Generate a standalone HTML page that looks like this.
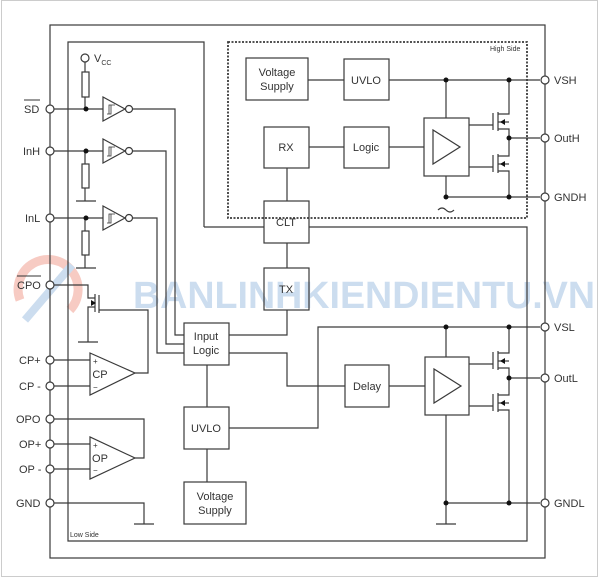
<!DOCTYPE html>
<html><head><style>
html,body{margin:0;padding:0;background:#fff;}
svg{display:block;}
text{font-family:"Liberation Sans",sans-serif;fill:#333;}
</style></head><body>
<svg width="600" height="578" viewBox="0 0 600 578" xmlns="http://www.w3.org/2000/svg">
<rect x="1.5" y="0.5" width="596" height="576" fill="none" stroke="#ccc" stroke-width="1"/>
<!-- watermark -->
<g opacity="0.45">
<path d="M20 300 A30 30 0 1 1 70 310" fill="none" stroke="#ef8d7c" stroke-width="9"/>
<path d="M25 320 L72 265" stroke="#8fb5dc" stroke-width="8"/>
<text x="133" y="308" font-size="38" font-weight="bold" style="fill:#8fb5dc" textLength="462" lengthAdjust="spacingAndGlyphs">BANLINHKIENDIENTU.VN</text>
</g>
<g fill="none" stroke="#3a3a3a" stroke-width="1.2">
<rect x="50" y="25" width="495" height="533"/>
<polyline points="204,227 204,42 68,42 68,541 527,541 527,227 309,227"/>
<line x1="204" y1="227" x2="264" y2="227"/>
<rect x="228" y="42" width="299" height="176" stroke-dasharray="2,1.5" stroke-width="1.8"/>
<rect x="246" y="58" width="62" height="42"/>
<rect x="344" y="59" width="45" height="41"/>
<rect x="264" y="127" width="45" height="41"/>
<rect x="344" y="127" width="45" height="41"/>
<rect x="424" y="118" width="45" height="58"/>
<polygon points="433,130 433,164 460,147"/>
<rect x="264" y="201" width="45" height="42"/>
<rect x="264" y="268" width="45" height="42"/>
<line x1="308" y1="80" x2="344" y2="80"/>
<line x1="389" y1="80" x2="540" y2="80"/>
<line x1="309" y1="147" x2="344" y2="147"/>
<line x1="389" y1="147" x2="424" y2="147"/>
<line x1="446" y1="80" x2="446" y2="118"/>
<polyline points="446,176 446,197 540,197"/>
<path d="M438 210 q4 -4 8 0 q4 4 8 0"/>
<line x1="287" y1="168" x2="287" y2="201"/>
<line x1="287" y1="243" x2="287" y2="268"/>
<polyline points="287,310 287,335 229,335"/>
<line x1="469" y1="125" x2="493" y2="125"/>
<line x1="493" y1="113" x2="493" y2="130"/>
<line x1="498" y1="112" x2="498" y2="131"/>
<polyline points="498,114 509,114 509,80"/>
<line x1="498" y1="122" x2="509" y2="122"/>
<polyline points="498,129 509,129 509,138"/>
<line x1="469" y1="167" x2="493" y2="167"/>
<line x1="493" y1="155" x2="493" y2="172"/>
<line x1="498" y1="154" x2="498" y2="173"/>
<polyline points="498,156 509,156 509,138"/>
<line x1="498" y1="164" x2="509" y2="164"/>
<polyline points="498,171 509,171 509,197"/>
<line x1="509" y1="138" x2="540" y2="138"/>
<rect x="184" y="323" width="45" height="42"/>
<rect x="345" y="365" width="44" height="42"/>
<rect x="425" y="357" width="44" height="58"/>
<polygon points="434,369 434,403 461,386"/>
<rect x="184" y="407" width="45" height="42"/>
<rect x="184" y="482" width="62" height="42"/>
<polyline points="229,353 287,353 287,386 345,386"/>
<line x1="389" y1="386" x2="425" y2="386"/>
<polyline points="229,428 318,428 318,327 540,327"/>
<line x1="446" y1="327" x2="446" y2="357"/>
<line x1="446" y1="415" x2="446" y2="524"/>
<line x1="436" y1="524" x2="456" y2="524"/>
<line x1="446" y1="503" x2="540" y2="503"/>
<line x1="207" y1="365" x2="207" y2="407"/>
<line x1="207" y1="449" x2="207" y2="482"/>
<line x1="469" y1="364" x2="493" y2="364"/>
<line x1="493" y1="352" x2="493" y2="369"/>
<line x1="498" y1="351" x2="498" y2="370"/>
<polyline points="498,353 509,353 509,327"/>
<line x1="498" y1="361" x2="509" y2="361"/>
<polyline points="498,368 509,368 509,378"/>
<line x1="469" y1="406" x2="493" y2="406"/>
<line x1="493" y1="394" x2="493" y2="411"/>
<line x1="498" y1="393" x2="498" y2="412"/>
<polyline points="498,395 509,395 509,378"/>
<line x1="498" y1="403" x2="509" y2="403"/>
<polyline points="498,410 509,410 509,503"/>
<line x1="509" y1="378" x2="540" y2="378"/>
<circle cx="85" cy="58" r="4" fill="#fff"/>
<line x1="85" y1="62" x2="85" y2="72"/>
<rect x="82" y="72" width="7" height="25"/>
<line x1="85" y1="97" x2="85" y2="109"/>
<line x1="54" y1="109" x2="103" y2="109"/>
<polygon points="103,97 103,121 125,109"/>
<circle cx="129" cy="109" r="3.5" fill="#fff"/>
<polyline points="133,109 175,109 175,335 184,335"/>
<line x1="54" y1="151" x2="103" y2="151"/>
<polygon points="103,139 103,163 125,151"/>
<circle cx="129" cy="151" r="3.5" fill="#fff"/>
<polyline points="133,151 166,151 166,344 184,344"/>
<line x1="85" y1="151" x2="85" y2="164"/>
<rect x="82" y="164" width="7" height="24"/>
<line x1="85" y1="188" x2="85" y2="201"/>
<line x1="76" y1="201" x2="96" y2="201"/>
<line x1="54" y1="218" x2="103" y2="218"/>
<polygon points="103,206 103,230 125,218"/>
<circle cx="129" cy="218" r="3.5" fill="#fff"/>
<polyline points="133,218 157,218 157,353 184,353"/>
<line x1="85" y1="218" x2="85" y2="231"/>
<rect x="82" y="231" width="7" height="24"/>
<line x1="85" y1="255" x2="85" y2="268"/>
<line x1="76" y1="268" x2="96" y2="268"/>
<polyline points="54,285 88,285 88,298 95,298"/>
<line x1="95" y1="294" x2="95" y2="312"/>
<line x1="99" y1="295" x2="99" y2="313"/>
<polyline points="99,310 148,310 148,373 135,373"/>
<polyline points="95,307 88,307 88,342"/>
<line x1="78" y1="342" x2="98" y2="342"/>
<polygon points="90,353 90,395 135,373"/>
<line x1="54" y1="360" x2="90" y2="360"/>
<line x1="54" y1="386" x2="90" y2="386"/>
<polygon points="90,437 90,479 135,458"/>
<line x1="54" y1="444" x2="90" y2="444"/>
<line x1="54" y1="469" x2="90" y2="469"/>
<polyline points="54,419 144,419 144,458 135,458"/>
<polyline points="54,503 144,503 144,524"/>
<line x1="134" y1="524" x2="154" y2="524"/>
</g>
<g fill="#111">
<circle cx="86" cy="109" r="2.5"/><circle cx="86" cy="151" r="2.5"/><circle cx="86" cy="218" r="2.5"/>
<circle cx="446" cy="80" r="2.5"/><circle cx="509" cy="80" r="2.5"/><circle cx="509" cy="138" r="2.5"/>
<circle cx="446" cy="197" r="2.5"/><circle cx="509" cy="197" r="2.5"/>
<circle cx="446" cy="327" r="2.5"/><circle cx="509" cy="327" r="2.5"/><circle cx="509" cy="378" r="2.5"/>
<circle cx="446" cy="503" r="2.5"/><circle cx="509" cy="503" r="2.5"/>
<polygon points="500,122 505,119 505,125"/><polygon points="500,164 505,161 505,167"/>
<polygon points="500,361 505,358 505,364"/><polygon points="500,403 505,400 505,406"/>
<polygon points="96,303 91,300 91,306"/>
</g>
<g fill="#fff" stroke="#3a3a3a" stroke-width="1.2">
<circle cx="50" cy="109" r="4"/><circle cx="50" cy="151" r="4"/><circle cx="50" cy="218" r="4"/>
<circle cx="50" cy="285" r="4"/><circle cx="50" cy="360" r="4"/><circle cx="50" cy="386" r="4"/>
<circle cx="50" cy="419" r="4"/><circle cx="50" cy="444" r="4"/><circle cx="50" cy="469" r="4"/>
<circle cx="50" cy="503" r="4"/>
<circle cx="545" cy="80" r="4"/><circle cx="545" cy="138" r="4"/><circle cx="545" cy="197" r="4"/>
<circle cx="545" cy="327" r="4"/><circle cx="545" cy="378" r="4"/><circle cx="545" cy="503" r="4"/>
</g>
<g font-size="11">
<text x="24" y="113">SD</text><line x1="24" y1="100" x2="40" y2="100" stroke="#333"/>
<text x="23" y="155">InH</text>
<text x="25" y="222">InL</text>
<text x="17" y="289">CPO</text><line x1="17" y1="276" x2="41" y2="276" stroke="#333"/>
<text x="19" y="364">CP+</text>
<text x="19" y="390">CP -</text>
<text x="16" y="423">OPO</text>
<text x="19" y="448">OP+</text>
<text x="19" y="473">OP -</text>
<text x="16" y="507">GND</text>
<text x="554" y="84">VSH</text>
<text x="554" y="142">OutH</text>
<text x="554" y="201">GNDH</text>
<text x="554" y="331">VSL</text>
<text x="554" y="382">OutL</text>
<text x="554" y="507">GNDL</text>
<text x="94" y="62">V<tspan font-size="7" dy="3">CC</tspan></text>
<text x="277" y="76" text-anchor="middle">Voltage</text>
<text x="277" y="90" text-anchor="middle">Supply</text>
<text x="366" y="84" text-anchor="middle">UVLO</text>
<text x="286" y="151" text-anchor="middle">RX</text>
<text x="366" y="151" text-anchor="middle">Logic</text>
<text x="286" y="226" text-anchor="middle">CLT</text>
<text x="286" y="293" text-anchor="middle">TX</text>
<text x="206" y="340" text-anchor="middle">Input</text>
<text x="206" y="354" text-anchor="middle">Logic</text>
<text x="367" y="390" text-anchor="middle">Delay</text>
<text x="206" y="432" text-anchor="middle">UVLO</text>
<text x="215" y="500" text-anchor="middle">Voltage</text>
<text x="215" y="514" text-anchor="middle">Supply</text>
<text x="100" y="378" text-anchor="middle">CP</text>
<text x="100" y="462" text-anchor="middle">OP</text>
</g>
<g font-size="8">
<text x="93" y="364">+</text><text x="93" y="390">−</text>
<text x="93" y="448">+</text><text x="93" y="473">−</text>
</g>
<text x="490" y="51" font-size="7">High Side</text>
<text x="70" y="537" font-size="7">Low Side</text>
<g fill="none" stroke="#333" stroke-width="0.8">
<path d="M107 114 h4 v-9 h4 M109 114 v-9 h2"/>
<path d="M107 156 h4 v-9 h4 M109 156 v-9 h2"/>
<path d="M107 223 h4 v-9 h4 M109 223 v-9 h2"/>
</g>
</svg>
</body></html>
